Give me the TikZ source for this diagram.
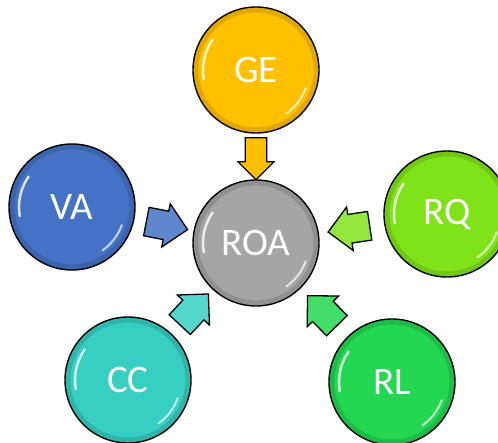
\documentclass[tikz,border=0pt]{standalone}
\usepackage{fontspec}
\setmainfont{Carlito}
\usetikzlibrary{shapes.arrows}

\definecolor{roagray}{HTML}{A5A5A5}
\definecolor{geyellow}{HTML}{FFC000}
\definecolor{vablue}{HTML}{4472C4}
\definecolor{rqgreen}{HTML}{80E31A}
\definecolor{ccteal}{HTML}{36CFC1}
\definecolor{rlgreen}{HTML}{23D750}

\begin{document}
\begin{tikzpicture}[x=1pt,y=-1pt]
    \tikzstyle{bubble} = [circle, draw=black, line width=1.4pt, minimum size=126pt,
        inner sep=0pt, text=white, font=\fontsize{39}{39}\selectfont,
        path picture={
            \draw[black, opacity=0.12, line width=5pt] (path picture bounding box.center) circle (60pt);
            \draw[white, opacity=0.8, line width=2.5pt, line cap=round]
                (path picture bounding box.center) ++(145:53pt) arc (145:190:53pt);
            \draw[white, opacity=0.7, line width=2pt, line cap=round]
                (path picture bounding box.center) ++(-20:53pt) arc (-20:-55:53pt);
        }]
    \tikzstyle{blockarrow} = [single arrow, draw=black, line width=1.3pt, inner sep=13pt,
        minimum width=44pt, minimum height=42pt, sloped, allow upside down, pos=0.43]

    \useasboundingbox (0,0) rectangle (498,442);
    \clip (0,0) rectangle (498,442);

    % circles
    \node[bubble, fill=roagray] (roa) at (256,243) {ROA};
    \node[bubble, fill=geyellow] (ge) at (256,70) {GE};
    \node[bubble, fill=vablue] (va) at (72,207) {VA};
    \node[bubble, fill=rqgreen] (rq) at (447,214) {RQ};
    \node[bubble, fill=ccteal] (cc) at (128,380) {CC};
    \node[bubble, fill=rlgreen] (rl) at (392,382) {RL};

    % arrows into the centre
    \path (ge) -- node[blockarrow, fill=geyellow, inner sep=10pt, minimum width=36pt] {} (roa);
    \path (va) -- node[blockarrow, fill=vablue!85!white] {} (roa);
    \path (rq) -- node[blockarrow, fill=rqgreen!85!white] {} (roa);
    \path (cc) -- node[blockarrow, fill=ccteal!85!white] {} (roa);
    \path (rl) -- node[blockarrow, fill=rlgreen!85!white] {} (roa);
\end{tikzpicture}
\end{document}
